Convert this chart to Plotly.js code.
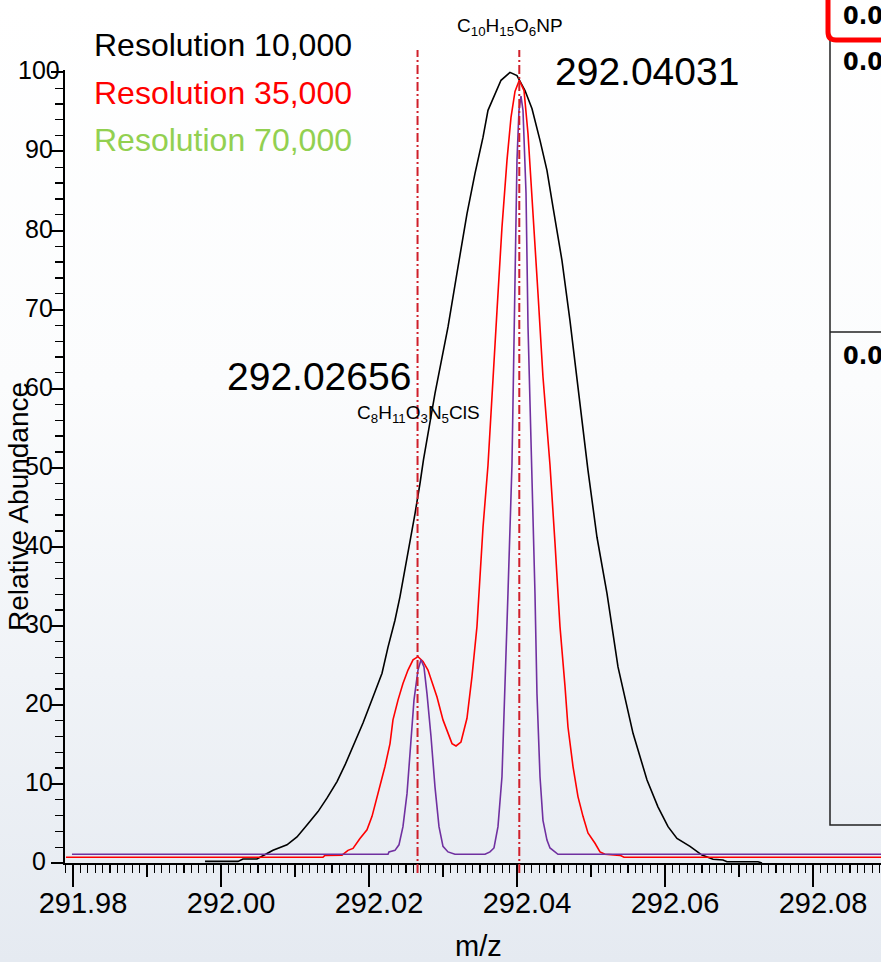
<!DOCTYPE html>
<html><head><meta charset="utf-8">
<script src="https://cdn.plot.ly/plotly-3.0.1.min.js"></script>
<style>
html,body{margin:0;padding:0;width:881px;height:962px;overflow:hidden;
background:linear-gradient(to bottom,#ffffff 0%,#fbfcfd 40%,#e5eaf1 100%);}
#chart{width:881px;height:962px;}
</style></head><body><div id="chart"></div>
<script>
// ---------- data ----------
const mzBlack = [291.99784, 292.00230, 292.00297, 292.00486, 292.00622, 292.00703, 292.00892, 292.01027, 292.01162, 292.01311, 292.01432, 292.01568, 292.01676, 292.01784, 292.01919, 292.02054, 292.02176, 292.02257, 292.02351, 292.02419, 292.02486, 292.02554, 292.02622, 292.02689, 292.02736, 292.02892, 292.03068, 292.03203, 292.03324, 292.03432, 292.03541, 292.03608, 292.03703, 292.03784, 292.03905, 292.04000, 292.04108, 292.04203, 292.04311, 292.04405, 292.04486, 292.04608, 292.04716, 292.04824, 292.04959, 292.05081, 292.05216, 292.05365, 292.05568, 292.05757, 292.05905, 292.06041, 292.06162, 292.06338, 292.06500, 292.06649, 292.06784, 292.06838, 292.07257, 292.07311];
const abBlack = [0.2, 0.2, 0.5, 0.5, 1.2, 1.6, 2.3, 3.3, 4.8, 6.5, 8.2, 10.3, 12.4, 14.7, 17.7, 21.0, 24.0, 27.3, 30.7, 33.7, 37.0, 40.8, 44.2, 48.0, 51.0, 59.4, 67.8, 75.4, 82.1, 87.2, 91.8, 95.2, 97.3, 99.0, 100.0, 99.6, 97.7, 95.4, 91.4, 87.6, 83.0, 76.2, 68.6, 60.2, 49.7, 41.2, 34.1, 24.8, 16.4, 10.5, 7.1, 4.6, 3.1, 2.1, 1.0, 0.47, 0.38, 0.16, 0.16, 0.0];

const mzRed = [291.97905, 292.01378, 292.01405, 292.01635, 292.01716, 292.01784, 292.01878, 292.01973, 292.02041, 292.02122, 292.02216, 292.02284, 292.02324, 292.02392, 292.02459, 292.02527, 292.02595, 292.02662, 292.02730, 292.02797, 292.02919, 292.03000, 292.03122, 292.03176, 292.03243, 292.03324, 292.03392, 292.03459, 292.03500, 292.03541, 292.03608, 292.03662, 292.03730, 292.03797, 292.03865, 292.03919, 292.03973, 292.04031, 292.04095, 292.04149, 292.04216, 292.04284, 292.04351, 292.04446, 292.04514, 292.04581, 292.04649, 292.04689, 292.04757, 292.04824, 292.04892, 292.04959, 292.05054, 292.05122, 292.05189, 292.05392, 292.05446, 292.08919];
const abRed = [0.72, 0.72, 0.97, 1.0, 1.6, 1.85, 3.1, 4.2, 5.9, 8.8, 12.2, 15.1, 18.1, 20.6, 22.7, 24.4, 25.7, 26.1, 25.5, 24.4, 21.0, 18.1, 15.1, 14.8, 15.3, 18.3, 23.6, 29.9, 36.2, 42.5, 50.3, 59.4, 69.9, 80.4, 88.9, 94.3, 97.6, 99.0, 97.7, 92.2, 82.6, 72.0, 61.5, 50.3, 40.4, 29.9, 22.3, 17.2, 12.2, 8.4, 5.9, 3.8, 2.5, 1.4, 1.1, 0.97, 0.72, 0.72];

const mzPurple = [291.97986, 292.02257, 292.02270, 292.02351, 292.02405, 292.02459, 292.02514, 292.02568, 292.02608, 292.02662, 292.02703, 292.02743, 292.02784, 292.02838, 292.02892, 292.02946, 292.03000, 292.03068, 292.03162, 292.03568, 292.03635, 292.03689, 292.03743, 292.03797, 292.03838, 292.03878, 292.03932, 292.03959, 292.04000, 292.04027, 292.04054, 292.04081, 292.04122, 292.04149, 292.04203, 292.04243, 292.04270, 292.04311, 292.04351, 292.04405, 292.04446, 292.04486, 292.04554, 292.08919];
const abPurple = [1.1, 1.1, 1.4, 1.6, 2.3, 4.6, 8.8, 15.1, 20.6, 24.4, 25.7, 24.8, 21.4, 16.0, 9.6, 4.6, 2.1, 1.4, 1.1, 1.1, 1.4, 1.9, 4.6, 10.9, 21.4, 34.1, 50.3, 68.0, 88.9, 95.2, 97.0, 95.2, 84.7, 67.8, 50.3, 34.1, 21.4, 10.9, 5.4, 2.9, 1.9, 1.6, 1.1, 1.1];

const seriesNames = ['Resolution 10,000', 'Resolution 35,000', 'Resolution 70,000'];
const legendColors = ['#000000', '#ff0000', '#92d050'];
const lineColors = ['#000000', '#ff0000', '#7030a0'];

const peakMz = [292.02656, 292.04031];
const peakLabels = ['292.02656', '292.04031'];
const formulas = ['C<sub>8</sub>H<sub>11</sub>O<sub>3</sub>N<sub>5</sub>ClS', 'C<sub>10</sub>H<sub>15</sub>O<sub>6</sub>NP'];

const xTickVals = [291.98, 292.00, 292.02, 292.04, 292.06, 292.08];
const xTickText = ['291.98', '292.00', '292.02', '292.04', '292.06', '292.08'];
const yTickVals = [0, 10, 20, 30, 40, 50, 60, 70, 80, 90, 100];
const yTickText = ['0', '10', '20', '30', '40', '50', '60', '70', '80', '90', '100'];
const tableValues = ['0.00', '0.00', '0.00'];

const xTitle = 'm/z';
const yTitle = 'Relative Abundance';

// ---------- layout geometry (pixels) ----------
const L = 65, T = 70, W = 816, H = 793;
const px = x => (x - L) / W;
const py = y => (T + H - y) / H;
const FONT = 'Liberation Sans, Arial, sans-serif';

const xRange = [291.97892, 292.08919];

const traces = [
  {x: mzBlack, y: abBlack, name: seriesNames[0]},
  {x: mzRed, y: abRed, name: seriesNames[1]},
  {x: mzPurple, y: abPurple, name: seriesNames[2]}
].map((t, i) => Object.assign(t, {
  type: 'scatter', mode: 'lines', line: {color: lineColors[i], width: 1.6},
  hoverinfo: 'skip', showlegend: false
}));

// invisible trace to host medium ticks axis
traces.push({x: [xRange[0]], y: [0], xaxis: 'x2', yaxis: 'y', mode: 'markers',
  marker: {opacity: 0}, hoverinfo: 'skip', showlegend: false});

const annotations = [];
// legend-like labels
const legendY = [45, 93, 140];
seriesNames.forEach((n, i) => annotations.push({
  xref: 'paper', yref: 'paper', x: px(92), y: py(legendY[i]), xanchor: 'left', yanchor: 'middle',
  text: n, showarrow: false, font: {family: FONT, size: 32, color: legendColors[i]}
}));
// y tick labels (centred on x = 39 px as in the original)
yTickVals.forEach((v, i) => annotations.push({
  xref: 'paper', yref: 'y', x: px(39), y: v, yshift: 2, xanchor: 'center', yanchor: 'middle',
  text: yTickText[i], showarrow: false, font: {family: FONT, size: 25, color: '#000'}
}));
// peak labels
annotations.push({xref: 'x', yref: 'paper', x: peakMz[1], xshift: 34, y: py(71), xanchor: 'left', yanchor: 'middle',
  text: peakLabels[1], showarrow: false, font: {family: FONT, size: 39, color: '#000'}});
annotations.push({xref: 'x', yref: 'paper', x: peakMz[0], xshift: -5, y: py(376), xanchor: 'right', yanchor: 'middle',
  text: peakLabels[0], showarrow: false, font: {family: FONT, size: 39, color: '#000'}});
annotations.push({xref: 'x', yref: 'paper', x: peakMz[1], xshift: -9, y: py(27), xanchor: 'center', yanchor: 'middle',
  text: formulas[1], showarrow: false, font: {family: FONT, size: 19, color: '#000'}});
annotations.push({xref: 'x', yref: 'paper', x: peakMz[0], xshift: 1, y: py(414), xanchor: 'center', yanchor: 'middle',
  text: formulas[0], showarrow: false, font: {family: FONT, size: 19, color: '#000'}});
// axis titles
annotations.push({xref: 'paper', yref: 'paper', x: px(478), y: py(946), xanchor: 'center', yanchor: 'middle',
  text: xTitle, showarrow: false, font: {family: FONT, size: 29, color: '#000'}});
annotations.push({xref: 'paper', yref: 'paper', x: px(18), y: py(507), xanchor: 'center', yanchor: 'middle',
  text: yTitle, textangle: -90, showarrow: false, font: {family: FONT, size: 28, color: '#000'}});
// table values
const tableY = [15, 62, 356];
tableValues.forEach((v, i) => annotations.push({
  xref: 'paper', yref: 'paper', x: px(841), y: py(tableY[i]), xanchor: 'left', yanchor: 'middle',
  text: '<b>' + v + '</b>', showarrow: false,
  font: {family: 'Liberation Sans Narrow, DejaVu Sans Condensed, Liberation Sans, Arial', size: 25, color: '#000'}
}));

const shapes = [];
// dash-dot reference lines at the two peaks
peakMz.forEach(m => shapes.push({
  type: 'line', xref: 'x', yref: 'paper', x0: m, x1: m, y0: py(873), y1: py(50),
  line: {color: '#d01f2a', width: 2, dash: '9px,3px,2px,3px'}, layer: 'above'
}));
// right-hand table panel
shapes.push({type: 'path', xref: 'paper', yref: 'paper', layer: 'above',
  path: `M ${px(890)},${py(40)} L ${px(830)},${py(40)} L ${px(830)},${py(825)} L ${px(890)},${py(825)}`,
  line: {color: '#222', width: 1.5}});
shapes.push({type: 'line', xref: 'paper', yref: 'paper', layer: 'above',
  x0: px(830), x1: px(890), y0: py(332), y1: py(332), line: {color: '#222', width: 1.5}});
shapes.push({type: 'path', xref: 'paper', yref: 'paper', layer: 'above',
  path: `M ${px(890)},${py(-10)} L ${px(828)},${py(-10)} L ${px(828)},${py(32)} Q ${px(828)},${py(40)} ${px(836)},${py(40)} L ${px(890)},${py(40)}`,
  line: {color: '#ff0000', width: 5}});

const layout = {
  width: 881, height: 962,
  margin: {l: L, r: 0, t: T, b: 962 - T - H, pad: 0},
  paper_bgcolor: 'rgba(0,0,0,0)', plot_bgcolor: 'rgba(0,0,0,0)',
  font: {family: FONT, color: '#000'},
  showlegend: false,
  xaxis: {
    range: xRange, showgrid: false, zeroline: false,
    showline: true, linecolor: '#000', linewidth: 2,
    ticks: 'outside', tickcolor: '#000', tickwidth: 2, ticklen: 22,
    tickmode: 'array', tickvals: xTickVals, ticktext: xTickText,
    ticklabelstandoff: -9, ticklabelshift: 10,
    tickfont: {family: FONT, size: 29, color: '#000'},
    minor: {dtick: 0.001, tick0: 291.98, ticks: 'outside', ticklen: 8, tickcolor: '#000', tickwidth: 1.3, showgrid: false}
  },
  xaxis2: {
    overlaying: 'x', anchor: 'y', side: 'bottom', matches: 'x', range: xRange,
    showgrid: false, zeroline: false, showline: false, showticklabels: false,
    ticks: 'outside', tickcolor: '#000', tickwidth: 1.5, ticklen: 13,
    tickmode: 'linear', tick0: 291.98, dtick: 0.01
  },
  yaxis: {
    range: [0, 100.3], showgrid: false, zeroline: false,
    showline: true, linecolor: '#000', linewidth: 2,
    ticks: 'outside', tickcolor: '#000', tickwidth: 2, ticklen: 12,
    tickmode: 'array', tickvals: yTickVals, showticklabels: false,
    minor: {dtick: 2, tick0: 0, ticks: 'outside', ticklen: 8, tickcolor: '#000', tickwidth: 1.3, showgrid: false}
  },
  annotations: annotations,
  shapes: shapes
};

Plotly.newPlot('chart', traces, layout, {staticPlot: true, displayModeBar: false});
</script></body></html>
